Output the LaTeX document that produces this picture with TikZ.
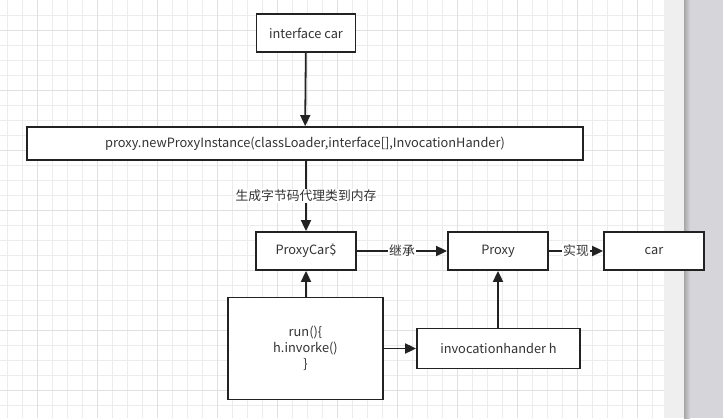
\documentclass[tikz,border=0pt]{standalone}
\usepackage{xcolor}
\usepackage{fontspec}
\setmainfont{Noto Sans CJK SC}
\usepackage{tikz}
\usetikzlibrary{arrows.meta, positioning}
\definecolor{ink}{RGB}{34,34,34}
\definecolor{txt}{RGB}{51,51,51}
\definecolor{gridminor}{RGB}{236,236,236}
\definecolor{gridmajor}{RGB}{224,224,224}
\definecolor{margin}{RGB}{239,239,239}
\definecolor{desk}{RGB}{214,214,218}

\tikzset{
  box/.style={draw=ink, line width=1.8pt, fill=white, text=txt, font=\fontsize{12.8}{16}\selectfont,
    inner sep=0pt, align=center},
  arrow/.style={draw=ink, line width=1.8pt, -{Triangle[length=11pt,width=10pt]}},
  edgelabel/.style={fill=white, text=txt, font=\fontsize{12.8}{16}\selectfont, inner sep=1pt}
}

\begin{document}
\begin{tikzpicture}[x=1pt, y=-1pt]
    % page, margin and desk
    \useasboundingbox (0,0) rectangle (723,418);
    \fill[desk] (684,0) rectangle (723,418);
    \fill[margin] (664,0) rectangle (684,418);
    \fill[white] (0,0) rectangle (664,418);
    \foreach \gx in {7,22,...,652} \draw[gridminor, line width=0.8pt] (\gx,0) -- (\gx,418);
    \foreach \gy in {15,30,...,410} \draw[gridminor, line width=0.8pt] (0,\gy) -- (664,\gy);
    \foreach \gx in {37,97,...,652} \draw[gridmajor, line width=0.8pt] (\gx,0) -- (\gx,418);
    \foreach \gy in {30,90,...,410} \draw[gridmajor, line width=0.8pt] (0,\gy) -- (664,\gy);
    \shade[left color=black!35, right color=desk] (684,0) rectangle (690,418);

    % boxes
    \node[box, minimum width=99pt, minimum height=38pt] (iface) at (306,33) {interface car};
    \node[box, minimum width=556pt, minimum height=33pt] (factory) at (305,143.5)
      {proxy.newProxyInstance(classLoader,interface[],InvocationHander)};
    \node[box, minimum width=100pt, minimum height=38pt] (proxycar) at (306,251) {ProxyCar\$};
    \node[box, minimum width=100pt, minimum height=38pt] (proxy) at (498,251) {Proxy};
    \node[box, minimum width=100pt, minimum height=38pt] (car) at (654,251) {car};
    \node[box, minimum width=155pt, minimum height=102pt] (run) at (305.5,348.5)
      {run()\{\\h.invorke()\\\}};
    \node[box, minimum width=163pt, minimum height=40pt] (handler) at (498.5,348.5) {invocationhander h};

    % connectors
    \draw[arrow] (iface) -- (factory);
    \draw[arrow] (factory.south -| proxycar) -- node[edgelabel] {生成字节码代理类到内存} (proxycar);
    \draw[arrow] (proxycar) -- node[edgelabel] {继承} (proxy);
    \draw[arrow] (proxy) -- node[edgelabel] {实现} (car);
    \draw[arrow] (run.north -| proxycar) -- (proxycar);
    \draw[arrow] (handler.north -| proxy) -- (proxy);
    \draw[arrow] (run) -- (handler);
  \end{tikzpicture}
\end{document}
